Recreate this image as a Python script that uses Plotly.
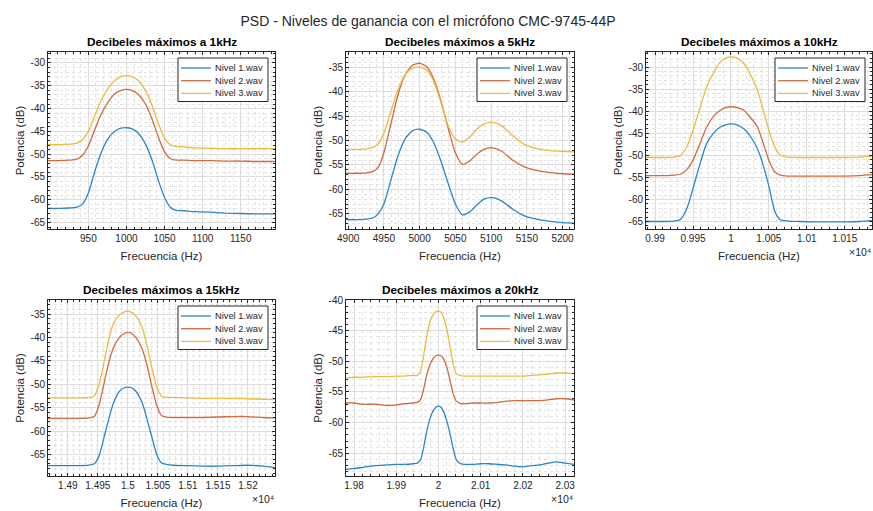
import plotly.graph_objects as go

W, H = 873, 511

# ---------------- data ----------------
series_names = ["Nivel 1.wav", "Nivel 2.wav", "Nivel 3.wav"]
subplot_titles = ["Decibeles máximos a 1kHz", "Decibeles máximos a 5kHz",
                  "Decibeles máximos a 10kHz", "Decibeles máximos a 15kHz",
                  "Decibeles máximos a 20kHz"]

# 1 kHz
f_1k = [897, 910, 925, 935, 942, 950, 958, 966, 975, 985, 993, 1000, 1007, 1015, 1025,
        1034, 1042, 1050, 1058, 1065, 1075, 1090, 1110, 1130, 1150, 1170, 1195]
n1_1k = [-61.9, -61.9, -61.8, -61.6, -61.0, -58.5, -54.0, -50.0, -46.8, -44.9, -44.3, -44.2,
         -44.4, -45.3, -47.8, -51.5, -55.8, -59.5, -61.7, -62.3, -62.4, -62.6, -62.7, -62.9,
         -63.0, -63.1, -63.1]
n2_1k = [-51.4, -51.4, -51.3, -51.1, -50.3, -48.2, -44.8, -41.5, -38.8, -36.7, -36.0, -35.8,
         -36.0, -36.8, -39.0, -42.5, -46.3, -49.5, -51.0, -51.3, -51.3, -51.4, -51.4, -51.5,
         -51.5, -51.6, -51.6]
n3_1k = [-47.9, -47.9, -47.8, -47.6, -46.9, -45.0, -41.8, -38.5, -35.8, -33.8, -33.0, -32.8,
         -33.0, -33.8, -36.0, -39.5, -43.3, -46.5, -48.0, -48.3, -48.4, -48.6, -48.7, -48.8,
         -48.8, -48.8, -48.8]

# 5 kHz
f_5k = [4897, 4910, 4925, 4935, 4942, 4950, 4960, 4970, 4980, 4990, 5000, 5010, 5020, 5030,
        5040, 5050, 5060, 5070, 5080, 5090, 5102, 5115, 5130, 5145, 5160, 5180, 5200, 5216]
n1_5k = [-66.2, -66.2, -66.1, -65.8, -65.0, -63.0, -58.0, -53.0, -49.6, -48.0, -47.7, -48.3,
         -50.5, -54.3, -58.8, -63.0, -65.2, -64.6, -63.2, -62.0, -61.7, -62.4, -64.0, -65.3,
         -66.0, -66.5, -66.8, -66.9]
n2_5k = [-56.7, -56.7, -56.6, -56.3, -55.5, -52.5, -46.5, -40.5, -36.5, -34.6, -34.2, -34.9,
         -37.5, -42.0, -47.5, -52.5, -54.9, -54.2, -52.8, -51.8, -51.5, -52.2, -54.0, -55.3,
         -56.0, -56.5, -56.8, -56.9]
n3_5k = [-51.8, -51.8, -51.7, -51.4, -50.7, -48.5, -44.0, -39.5, -36.5, -35.2, -35.0, -35.6,
         -38.0, -42.3, -47.0, -49.7, -50.3, -49.3, -47.7, -46.6, -46.3, -47.0, -49.0, -50.7,
         -51.5, -52.0, -52.2, -52.3]

# 10 kHz
f_10k = [9888, 9900, 9915, 9925, 9933, 9942, 9950, 9960, 9968, 9978, 9986, 9993, 10000, 10008,
         10017, 10026, 10035, 10043, 10050, 10058, 10065, 10075, 10090, 10110, 10130, 10150,
         10170, 10186]
n1_10k = [-65.0, -65.0, -65.0, -64.9, -64.6, -62.0, -57.5, -51.5, -47.3, -44.8, -43.6, -43.1,
          -42.9, -43.1, -44.0, -45.8, -48.5, -52.5, -57.0, -62.8, -64.6, -64.9, -65.0, -65.1,
          -65.1, -65.1, -65.0, -64.8]
n2_10k = [-54.6, -54.6, -54.6, -54.5, -54.3, -53.2, -51.1, -47.0, -43.6, -41.0, -39.8, -39.2,
          -39.0, -39.2, -39.8, -41.5, -43.6, -47.5, -51.1, -53.8, -54.5, -54.7, -54.7, -54.7,
          -54.7, -54.7, -54.6, -54.4]
n3_10k = [-50.5, -50.5, -50.5, -50.4, -50.1, -48.0, -44.3, -38.8, -34.5, -31.0, -28.9, -28.0,
          -27.7, -28.0, -29.2, -31.8, -35.3, -40.0, -44.3, -48.2, -50.0, -50.4, -50.5, -50.5,
          -50.5, -50.5, -50.4, -50.2]

# 15 kHz
f_15k = [14867, 14880, 14900, 14920, 14935, 14944, 14952, 14960, 14968, 14976, 14986, 14993,
         15000, 15007, 15014, 15024, 15032, 15040, 15048, 15056, 15064, 15075, 15100, 15125,
         15150, 15175, 15200, 15225, 15245]
n1_15k = [-67.4, -67.4, -67.4, -67.4, -67.3, -67.0, -65.3, -61.5, -57.5, -54.0, -51.5, -50.8,
          -50.6, -50.8, -51.6, -54.0, -57.5, -61.3, -65.0, -66.8, -67.1, -67.3, -67.4, -67.5,
          -67.5, -67.4, -67.3, -67.5, -67.8]
n2_15k = [-57.3, -57.3, -57.3, -57.3, -57.2, -56.9, -54.5, -50.0, -45.5, -42.2, -40.0, -39.2,
          -38.9, -39.2, -40.1, -42.5, -46.0, -50.5, -54.5, -56.7, -57.0, -57.1, -57.1, -57.1,
          -57.0, -56.9, -56.9, -57.1, -57.2]
n3_15k = [-52.9, -52.9, -52.9, -52.9, -52.8, -52.5, -50.0, -45.5, -40.5, -37.0, -35.2, -34.6,
          -34.4, -34.7, -35.5, -38.0, -41.8, -46.5, -50.5, -52.5, -52.8, -52.8, -52.9, -53.0,
          -53.0, -53.0, -53.1, -53.2, -53.3]

# 20 kHz
f_20k = [19781, 19800, 19820, 19850, 19880, 19900, 19920, 19940, 19950, 19958, 19965, 19972,
         19980, 19988, 19994, 20000, 20006, 20012, 20020, 20028, 20035, 20042, 20050, 20060,
         20080, 20100, 20120, 20140, 20160, 20180, 20200, 20220, 20240, 20260, 20280, 20300,
         20321]
n1_20k = [-67.6, -67.5, -67.3, -67.0, -66.9, -66.8, -66.8, -66.7, -66.6, -66.0, -64.0, -61.5,
          -59.3, -58.0, -57.5, -57.3, -57.5, -58.2, -59.8, -62.0, -64.3, -66.0, -66.6, -66.8,
          -66.8, -66.7, -66.7, -66.8, -66.9, -67.1, -67.2, -67.0, -66.9, -66.6, -66.4, -66.6,
          -66.8]
n2_20k = [-56.8, -56.8, -57.0, -57.0, -57.2, -57.1, -56.9, -56.8, -56.7, -56.2, -54.5, -52.3,
          -50.5, -49.5, -49.1, -49.0, -49.1, -49.6, -51.0, -53.3, -55.3, -56.5, -56.8, -56.9,
          -56.8, -56.8, -56.8, -56.7, -56.5, -56.4, -56.4, -56.4, -56.4, -56.3, -56.1, -56.1,
          -56.3]
n3_20k = [-52.7, -52.6, -52.6, -52.5, -52.5, -52.4, -52.4, -52.3, -52.3, -51.5, -49.0, -46.0,
          -43.5, -42.3, -41.9, -41.8, -42.0, -42.8, -44.8, -47.8, -50.5, -52.0, -52.3, -52.4,
          -52.4, -52.4, -52.4, -52.4, -52.4, -52.4, -52.4, -52.3, -52.2, -52.1, -51.9, -51.9,
          -52.0]

# axis ranges
xr_1k, yr_1k = [897, 1195], [-66.4, -27.6]
xr_5k, yr_5k = [4897, 5216], [-68.1, -31.9]
xr_10k, yr_10k = [9888, 10186], [-66.7, -26.6]
xr_15k, yr_15k = [14867, 15245], [-69.6, -32.0]
xr_20k, yr_20k = [19781, 20321], [-68.7, -40.0]

# tick values / labels
xt_1k = [950, 1000, 1050, 1100, 1150]
xl_1k = ["950", "1000", "1050", "1100", "1150"]
xt_5k = [4900, 4950, 5000, 5050, 5100, 5150, 5200]
xl_5k = ["4900", "4950", "5000", "5050", "5100", "5150", "5200"]
xt_10k = [9900, 9950, 10000, 10050, 10100, 10150]
xl_10k = ["0.99", "0.995", "1", "1.005", "1.01", "1.015"]
xt_15k = [14900, 14950, 15000, 15050, 15100, 15150, 15200]
xl_15k = ["1.49", "1.495", "1.5", "1.505", "1.51", "1.515", "1.52"]
xt_20k = [19800, 19900, 20000, 20100, 20200, 20300]
xl_20k = ["1.98", "1.99", "2", "2.01", "2.02", "2.03"]
yt_1k = [-65, -60, -55, -50, -45, -40, -35, -30]
yt_5k = [-65, -60, -55, -50, -45, -40, -35]
yt_10k = [-65, -60, -55, -50, -45, -40, -35, -30]
yt_15k = [-65, -60, -55, -50, -45, -40, -35]
yt_20k = [-65, -60, -55, -50, -45, -40]
exp_label = "×10⁴"

colors = ["#2b86c6", "#d2693f", "#ebbb42"]

# ---------------- layout geometry (pixels) ----------------
def px(x):
    return x / W

def py(y):
    return 1 - y / H

panels = [
    dict(f=f_1k, ys=[n1_1k, n2_1k, n3_1k], xr=xr_1k, yr=yr_1k, xt=xt_1k, xl=xl_1k, yt=yt_1k,
         xminor=10, box=(48, 275, 52, 229), exp=False),
    dict(f=f_5k, ys=[n1_5k, n2_5k, n3_5k], xr=xr_5k, yr=yr_5k, xt=xt_5k, xl=xl_5k, yt=yt_5k,
         xminor=10, box=(346, 574, 52, 229), exp=False),
    dict(f=f_10k, ys=[n1_10k, n2_10k, n3_10k], xr=xr_10k, yr=yr_10k, xt=xt_10k, xl=xl_10k,
         yt=yt_10k, xminor=10, box=(646, 872, 52, 229), exp=True),
    dict(f=f_15k, ys=[n1_15k, n2_15k, n3_15k], xr=xr_15k, yr=yr_15k, xt=xt_15k, xl=xl_15k,
         yt=yt_15k, xminor=10, box=(48, 275, 300, 476), exp=True),
    dict(f=f_20k, ys=[n1_20k, n2_20k, n3_20k], xr=xr_20k, yr=yr_20k, xt=xt_20k, xl=xl_20k,
         yt=yt_20k, xminor=20, box=(346, 574, 300, 476), exp=True),
]

fig = go.Figure()
FONT = "Liberation Sans, Arial, sans-serif"
TXT = "#262626"
annotations = []
shapes = []
layout = {}

for i, p in enumerate(panels):
    k = i + 1
    xa = "x" if k == 1 else f"x{k}"
    ya = "y" if k == 1 else f"y{k}"
    for j in range(3):
        fig.add_trace(go.Scatter(
            x=p["f"], y=p["ys"][j], mode="lines", name=series_names[j],
            line=dict(color=colors[j], width=1.3, shape="spline", smoothing=0.6),
            xaxis=xa, yaxis=ya, showlegend=False))
    x0, x1, y0, y1 = p["box"]
    common = dict(showline=True, linecolor="#262626", linewidth=1, mirror="ticks",
                  ticks="inside", ticklen=3, tickcolor="#262626",
                  showgrid=True, gridcolor="#dddddd", gridwidth=1, zeroline=False,
                  tickfont=dict(family=FONT, size=10, color=TXT), automargin=False)
    minor = dict(showgrid=True, gridcolor="#e3e3e3", griddash="dot", gridwidth=1,
                 ticks="inside", ticklen=2, tickcolor="#262626")
    layout["xaxis" if k == 1 else f"xaxis{k}"] = dict(
        domain=[px(x0), px(x1)], anchor=ya, range=p["xr"],
        tickmode="array", tickvals=p["xt"], ticktext=p["xl"],
        minor=dict(dtick=p["xminor"], tick0=0, **minor),
        title=dict(text="Frecuencia (Hz)", font=dict(family=FONT, size=11.5, color=TXT),
                   standoff=8),
        **common)
    layout["yaxis" if k == 1 else f"yaxis{k}"] = dict(
        domain=[py(y1), py(y0)], anchor=xa, range=p["yr"],
        tickmode="array", tickvals=p["yt"], ticktext=[str(v) for v in p["yt"]],
        minor=dict(dtick=1, tick0=0, **minor),
        title=dict(text="Potencia (dB)", font=dict(family=FONT, size=11.5, color=TXT),
                   standoff=3),
        **common)

    # legend box (top-right inside the axes)
    lr, lt = x1 - 7, y0 + 6
    ll, lb = lr - 90, lt + 43.5
    shapes.append(dict(type="rect", xref="paper", yref="paper",
                       x0=px(ll), x1=px(lr), y0=py(lb), y1=py(lt),
                       line=dict(color="#262626", width=1), fillcolor="white",
                       layer="above"))
    for j in range(3):
        ry = lt + 10 + 12.7 * j
        shapes.append(dict(type="line", xref="paper", yref="paper",
                           x0=px(ll + 3), x1=px(ll + 33), y0=py(ry), y1=py(ry),
                           line=dict(color=colors[j], width=1.3), layer="above"))
        annotations.append(dict(
            text=series_names[j], x=px(ll + 35), y=py(ry), xref="paper", yref="paper",
            xanchor="left", yanchor="middle", showarrow=False,
            font=dict(family=FONT, size=9.3, color=TXT)))

    annotations.append(dict(
        text=f"<b>{subplot_titles[i]}</b>", x=px((x0 + x1) / 2), y=py(y0 - 10),
        xref="paper", yref="paper", xanchor="center", yanchor="middle",
        showarrow=False, font=dict(family=FONT, size=11.8, color="#000000")))
    if p["exp"]:
        annotations.append(dict(
            text=exp_label, x=px(x1 + 1), y=py(y1 + 23),
            xref="paper", yref="paper", xanchor="right", yanchor="middle",
            showarrow=False, font=dict(family=FONT, size=10.5, color=TXT)))

fig.update_layout(
    width=W, height=H,
    margin=dict(l=0, r=0, t=0, b=0),
    template="none",
    showlegend=False,
    paper_bgcolor="white", plot_bgcolor="white",
    font=dict(family=FONT, size=10, color=TXT),
    title=dict(text="PSD - Niveles de ganancia con el micrófono CMC-9745-44P",
               x=px(428), y=py(21), xanchor="center", yanchor="middle",
               xref="paper", yref="paper",
               font=dict(family=FONT, size=14, color=TXT)),
    annotations=annotations,
    shapes=shapes,
    **layout,
)

fig.write_html("out.html")
